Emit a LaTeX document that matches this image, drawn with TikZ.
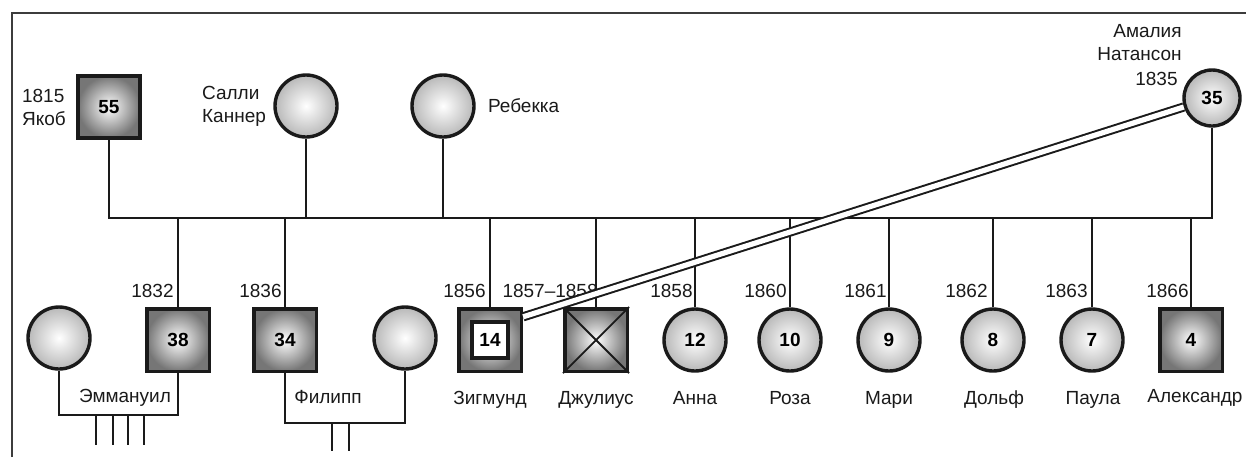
\documentclass[tikz,border=0pt]{standalone}
\usepackage{fontspec}
\setmainfont{Liberation Sans}
\usepackage{tikz}
\usetikzlibrary{positioning}
\definecolor{ink}{HTML}{1A1A1A}
\definecolor{sqedge}{HTML}{767676}
\definecolor{ciedge}{HTML}{B8B8B8}
\tikzset{
  frame/.style={draw=ink!85, line width=0.9pt},
  conn/.style={draw=ink, line width=1.25pt},
  xline/.style={draw=ink, line width=0.9pt},
  marr/.style={draw=ink, line width=1pt, double=white, double distance=2.6pt},
  male/.style={rectangle, draw=ink, line width=1.8pt, minimum size=31.3pt, inner sep=0pt,
    inner color=white, outer color=sqedge, font=\bfseries\fontsize{9.5}{11}\selectfont},
  female/.style={circle, draw=ink, line width=1.7pt, minimum size=31pt, inner sep=0pt,
    inner color=white, outer color=ciedge, font=\bfseries\fontsize{9.5}{11}\selectfont},
  inbox/.style={rectangle, draw=ink, line width=1.6pt, fill=white, minimum size=18pt,
    inner sep=0pt, font=\bfseries\fontsize{9.5}{11}\selectfont},
  lbl/.style={text=ink, inner sep=0pt, font=\fontsize{9.5}{11.5}\selectfont},
  yr/.style={lbl, anchor=base east},
  nm/.style={lbl, anchor=base}
}

\begin{document}
\begin{tikzpicture}[x=0.5pt, y=-0.5pt]
  \useasboundingbox (0,0) rectangle (1246,457);
  \draw[frame] (12,457) -- (12,13) -- (1246,13);

  % parents
  \node[male, minimum size=31pt] (jakob) at (109,107) {55};
  \node[female] (sally) at (306,106) {};
  \node[female] (rebek) at (443,106) {};
  \node[female, minimum size=28pt] (amal) at (1212,98) {35};

  \node[lbl, align=left, left=5pt of jakob] (jakobtxt) {1815\\Якоб};
  \node[lbl, align=left, left=3.5pt of sally] (sallytxt) {Салли\\Каннер};
  \node[lbl, right=6pt of rebek] (rebektxt) {Ребекка};
  \node[lbl, align=right, anchor=east] (amaltxt) at (1182,43) {Амалия\\Натансон};
  \node[lbl, anchor=east] (amalyr) at (1178,79) {1835};

  % sibship bar
  \coordinate (bar) at (0,218);
  \draw[conn] (jakob.south) -- (jakob.south |- bar) -- (amal.south |- bar) -- (amal.south);
  \draw[conn] (sally.south) -- (sally.south |- bar);
  \draw[conn] (rebek.south) -- (rebek.south |- bar);

  % children
  \node[male] (emm) at (178,340) {38};
  \node[male] (phil) at (285,340) {34};
  \node[male] (sigm) at (490,340) {};
  \node[inbox] (sigmin) at (sigm) {14};
  \node[male] (jul) at (596,340) {};
  \node[female] (anna) at (695,340) {12};
  \node[female] (rosa) at (790,340) {10};
  \node[female] (mari) at (889,340) {9};
  \node[female] (dolf) at (993,340) {8};
  \node[female] (paula) at (1092,340) {7};
  \node[male] (alex) at (1191,340) {4};

  \draw[conn] (emm.north) -- (emm.north |- bar) (phil.north) -- (phil.north |- bar)
    (sigm.north) -- (sigm.north |- bar) (jul.north) -- (jul.north |- bar)
    (anna.north) -- (anna.north |- bar) (rosa.north) -- (rosa.north |- bar)
    (mari.north) -- (mari.north |- bar) (dolf.north) -- (dolf.north |- bar)
    (paula.north) -- (paula.north |- bar) (alex.north) -- (alex.north |- bar);

  \draw[xline] (jul.north west) -- (jul.south east) (jul.north east) -- (jul.south west);

  \node[yr] (yemm) at (174,297) {1832};
  \node[yr] (yphil) at (282,297) {1836};
  \node[yr] (ysigm) at (486,297) {1856};
  \node[yr] (yjul) at (598,297) {1857–1858};
  \node[yr] (yanna) at (693,297) {1858};
  \node[yr] (yrosa) at (787,297) {1860};
  \node[yr] (ymari) at (887,297) {1861};
  \node[yr] (ydolf) at (988,297) {1862};
  \node[yr] (ypaula) at (1088,297) {1863};
  \node[yr] (yalex) at (1189,297) {1866};

  \node[nm] (nsigm) at (490,404) {Зигмунд};
  \node[nm] (njul) at (596,404) {Джулиус};
  \node[nm] (nanna) at (695,404) {Анна};
  \node[nm] (nrosa) at (790,404) {Роза};
  \node[nm] (nmari) at (889,404) {Мари};
  \node[nm] (ndolf) at (994,404) {Дольф};
  \node[nm] (npaula) at (1093,404) {Паула};
  \node[nm] (nalex) at (1195,402) {Александр};

  % Emmanuil's and Philipp's families
  \node[female] (emmw) at (59,338) {};
  \node[female] (philw) at (405,338) {};
  \coordinate (emmfam) at (0,415);
  \coordinate (philfam) at (0,423);
  \draw[conn] (emmw.south) |- (emm.south |- emmfam) -- (emm.south);
  \draw[conn] (phil.south) |- (philw.south |- philfam) -- (philw.south);
  \draw[conn] (96,415) -- (96,445) (113,415) -- (113,445) (128,415) -- (128,445) (144,415) -- (144,445);
  \draw[conn] (332,423) -- (332,451) (349,423) -- (349,451);
  \node[nm] (nemm) at (125,402) {Эммануил};
  \node[nm] (nphil) at (328,403) {Филипп};

  % Amalia -- Sigmund
  \draw[marr] (sigm.35) -- (amal);
\end{tikzpicture}
\end{document}
